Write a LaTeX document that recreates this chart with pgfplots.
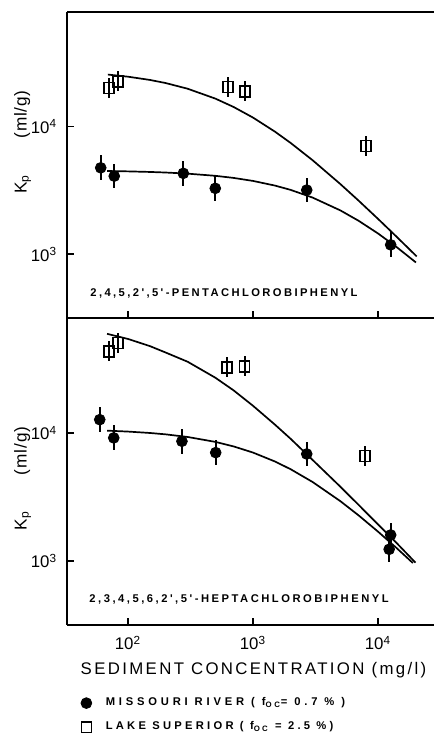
\documentclass[border=0pt]{standalone}
\usepackage{fontspec}
\setmainfont{Liberation Sans}
\newfontfamily\xlabfont[LetterSpace=14]{Liberation Sans}
\newfontfamily\cmpfontA[LetterSpace=21.5]{Liberation Sans Bold}
\newfontfamily\cmpfontB[LetterSpace=22.5]{Liberation Sans Bold}
\newfontfamily\legfont[LetterSpace=29]{Liberation Sans Bold}
\newfontfamily\legfontwide[LetterSpace=34]{Liberation Sans Bold}
\newfontfamily\ylabfont[LetterSpace=5]{Liberation Sans}
\usepackage{pgfplots}
\pgfplotsset{compat=1.18}
\usepackage{pgfplotstable}

% top panel: pentachlorobiphenyl
\pgfplotstableread{
x y ep em
60.5 4750 0.25 0.2
77.6 4090 0.25 0.2
277 4300 0.25 0.2
499 3280 0.25 0.2
2690 3180 0.25 0.2
12630 1183 0.25 0.2
}\topMR
\pgfplotstableread{
x y ep em
70.5 20050 0.2 0.165
83.6 22600 0.2 0.165
628 20400 0.2 0.165
863 18900 0.2 0.165
8020 7020 0.2 0.165
}\topLS
\pgfplotstableread{
x y
69 25564
100 24602
150 23195
200 21940
300 19798
500 16563
700 14237
1000 11760
1500 9116
2000 7443
3000 5444
5000 3542
7000 2625
10000 1891
14000 1377
20400 960
}\topLScurve
\pgfplotstableread{
x y
68 4485
100 4455
150 4409
200 4364
300 4276
500 4112
700 3959
1000 3750
1500 3447
2000 3190
3000 2775
5000 2202
7000 1826
10000 1453
14000 1142
20100 861
}\topMRcurve

% bottom panel: heptachlorobiphenyl
\pgfplotstableread{
x y ep em
59.4 12700 0.25 0.2
76.9 9150 0.25 0.2
270 8610 0.25 0.2
503 7020 0.25 0.2
2690 6850 0.25 0.2
12630 1596 0.25 0.2
12280 1233 0.25 0.2
}\botMR
\pgfplotstableread{
x y ep em
70.2 43500 0.2 0.165
83.2 50500 0.2 0.165
620 32600 0.2 0.165
858 33200 0.2 0.165
7870 6610 0.2 0.165
}\botLS
\pgfplotstableread{
x y
68 59500
100 54246
150 47652
200 42488
300 36000
500 27000
700 21500
1000 16300
1500 11600
2000 9000
3000 6150
5000 3800
7000 2740
10000 1930
14000 1390
19950 970
}\botLScurve
\pgfplotstableread{
x y
68 10420
100 10250
150 9994
200 9752
300 9301
500 8514
700 7849
1000 7027
1500 5982
2000 5207
3000 4136
5000 2931
7000 2269
10000 1695
14000 1268
19000 964
}\botMRcurve

\pgfplotsset{
  mr/.style={only marks, mark=*, mark size=2.7pt, black,
    error bars/y dir=both, error bars/y explicit relative,
    error bars/error mark=none,
    error bars/error bar style={line width=0.9pt}},
  ls/.style={only marks, mark=square, mark size=2.5pt, black,
    mark options={line width=0.8pt, yscale=1.1},
    error bars/y dir=both, error bars/y explicit relative,
    error bars/error mark=none,
    error bars/error bar style={line width=0.9pt}},
  fit/.style={black, line width=0.85pt, no marks, forget plot},
}

\begin{document}
\begin{tikzpicture}
\begin{axis}[scale only axis, width=183.5pt, height=153pt,
  at={(33.5pt,207.5pt)}, anchor=south west,
  xmode=log, ymode=log,
  xmin=32.5, xmax=28050, ymin=316, ymax=79100,
  axis x line*=box, axis y line*=left,
  xtick pos=left, ytick pos=left,
  tick align=inside, major tick length=3.5pt,
  minor tick length=0pt, minor tick style={draw=none},
  xtick={100,1000,10000}, ytick={1000,10000},
  xticklabels={,,},
  yticklabels={10\textsuperscript{3},10\textsuperscript{4}},
  axis line style={-,line width=1.3pt},
  tick style={line width=0.9pt,black},
  ticklabel style={font=\fontsize{8.4}{9}\selectfont},
  yticklabel style={inner sep=0pt, anchor=east, xshift=-4.75pt}]
\addplot[fit] table[x=x,y=y] {\topLScurve};
\addplot[fit] table[x=x,y=y] {\topMRcurve};
\addplot[mr] table[x=x,y=y,y error plus=ep,y error minus=em] {\topMR};
\addplot[ls] table[x=x,y=y,y error plus=ep,y error minus=em] {\topLS};
\end{axis}

\begin{axis}[scale only axis, width=183.5pt, height=153.5pt,
  at={(33.5pt,54pt)}, anchor=south west,
  xmode=log, ymode=log,
  xmin=32.5, xmax=28050, ymin=316, ymax=79100,
  axis x line*=box, axis y line*=left,
  xtick pos=left, ytick pos=left,
  tick align=inside, major tick length=3.5pt,
  minor tick length=0pt, minor tick style={draw=none},
  xtick={100,1000,10000}, ytick={1000,10000},
  xticklabels={10\textsuperscript{2},10\textsuperscript{3},10\textsuperscript{4}},
  yticklabels={10\textsuperscript{3},10\textsuperscript{4}},
  axis line style={-,line width=1.3pt},
  tick style={line width=0.9pt,black},
  ticklabel style={font=\fontsize{8.4}{9}\selectfont},
  yticklabel style={inner sep=0pt, anchor=east, xshift=-4.75pt},
  xticklabel style={yshift=-2pt},
  legend style={at={(0.037,-0.222)}, anchor=north west, draw=none, fill=none,
    font=\legfont\fontsize{5.6}{6.5}\selectfont, row sep=2.5pt, inner sep=0pt},
  legend cell align=left]
\addplot[fit] table[x=x,y=y] {\botLScurve};
\addplot[fit] table[x=x,y=y] {\botMRcurve};
\addplot[mr] table[x=x,y=y,y error plus=ep,y error minus=em] {\botMR};
\addlegendentry{\hspace{5pt}\legfontwide MISSOURI RIVER ( f\textsubscript{OC}= 0.7 \% )}
\addplot[ls] table[x=x,y=y,y error plus=ep,y error minus=em] {\botLS};
\addlegendentry{\hspace{5pt}LAKE SUPERIOR ( f\textsubscript{OC} = 2.5 \%)}
\end{axis}

\node[anchor=base west, font=\cmpfontA\fontsize{5.6}{6.5}\selectfont, inner sep=0pt]
  at (45pt,218pt) {2,4,5,2',5'-PENTACHLOROBIPHENYL};
\node[anchor=base west, font=\cmpfontB\fontsize{5.6}{6.5}\selectfont, inner sep=0pt]
  at (44.5pt,65pt) {2,3,4,5,6,2',5'-HEPTACHLOROBIPHENYL};
\node[anchor=base, font=\xlabfont\fontsize{8.4}{9}\selectfont, inner sep=0pt]
  at (126.75pt,29pt) {SEDIMENT CONCENTRATION (mg/l)};
\node[rotate=90, anchor=base, font=\ylabfont\fontsize{8.6}{9}\selectfont, inner sep=0pt]
  at (13.25pt,295.5pt) {K\textsubscript{p}\hspace{18pt}(ml/g)};
\node[rotate=90, anchor=base, font=\ylabfont\fontsize{8.6}{9}\selectfont, inner sep=0pt]
  at (13.25pt,127.25pt) {K\textsubscript{p}\hspace{18pt}(ml/g)};

\pgfresetboundingbox
\path[use as bounding box] (0,0) rectangle (217pt,366.5pt);
\end{tikzpicture}
\end{document}
